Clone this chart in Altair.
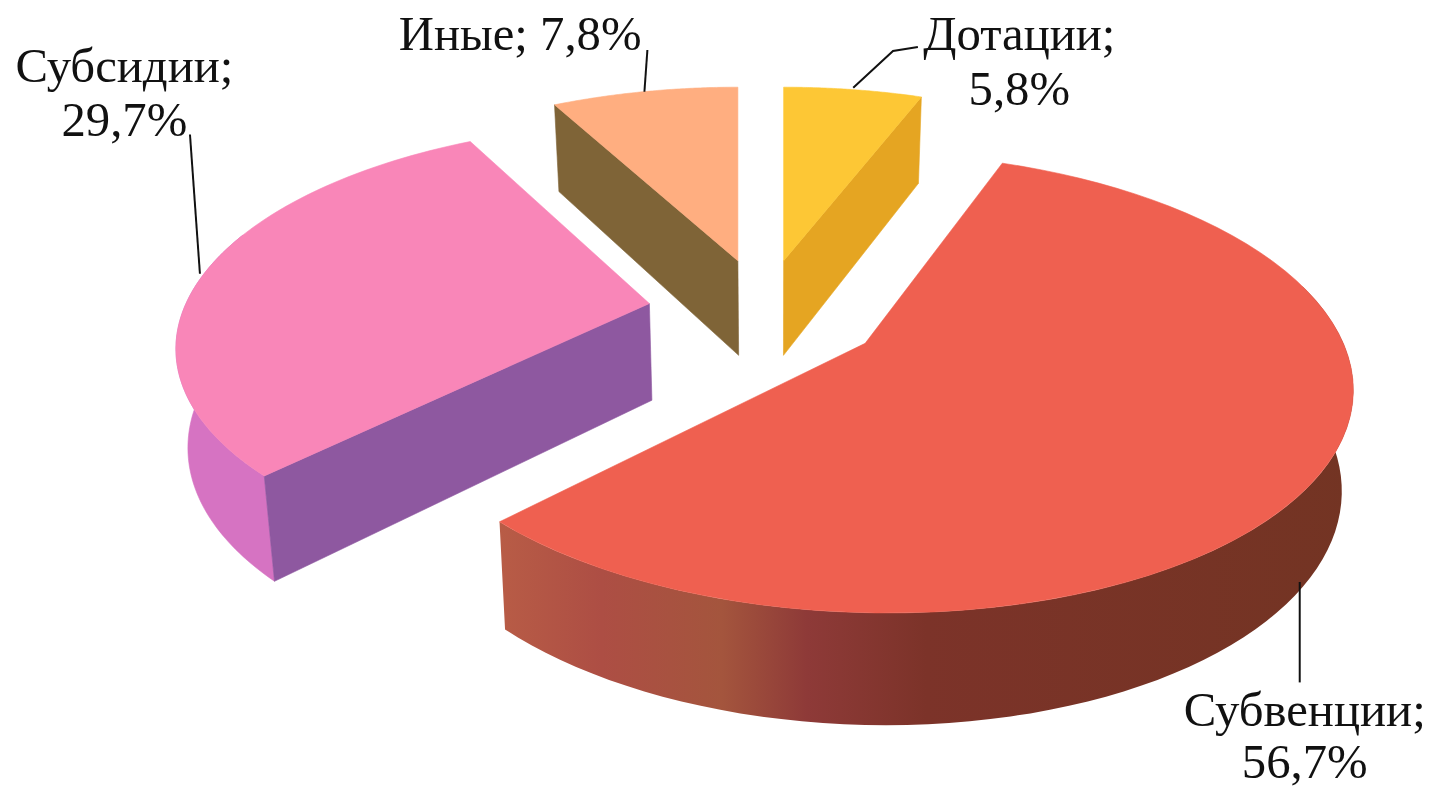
import math
import altair as alt
import pandas as pd

categories = ["Дотации", "Субвенции", "Субсидии", "Иные"]
shares = [5.8, 56.7, 29.7, 7.8]
share_labels = ["5,8%", "56,7%", "29,7%", "7,8%"]
top_colors = ["#FDC735", "#EF6050", "#F986B8", "#FFAE80"]

# projection of each exploded slice: apex, radii, shear, rim offset
layout = {
    "Дотации": (783, 262, 454, 206, 0, 0, 0),
    "Субвенции": (865, 345, 475, 224, 15, 5, -2),
    "Субсидии": (648, 305, 466, 214, -12, 0, 0),
    "Иные": (737, 262, 454, 206, 0, 0, 0),
}
PERSP = 0.18
XD = alt.Scale(domain=[3, 1431])
YD = alt.Scale(domain=[794, 10])


def rim(name, deg):
    ax, ay, a, b, s, ox, oy = layout[name]
    t = math.radians(deg)
    d = 1 - PERSP * math.sin(t)
    return (ax + ox + (a * math.cos(t) + s * math.sin(t)) / d, ay + oy + b * math.sin(t) / d)


def drop(p):
    return (p[0] + (775 - p[0]) * 0.02, p[1] + 82 + 0.05 * p[1])


def poly(points, fill):
    df = pd.DataFrame({"x": [p[0] for p in points], "y": [p[1] for p in points], "i": range(len(points))})
    st = fill if isinstance(fill, str) else "transparent"
    return alt.Chart(df).mark_line(fill=fill, stroke=st, strokeWidth=0.6, interpolate="linear-closed").encode(
        x=alt.X("x:Q", scale=XD, axis=None),
        y=alt.Y("y:Q", scale=YD, axis=None),
        order="i:Q",
    )


bounds = {}
acc = -90.0
for c, v in zip(categories, shares):
    bounds[c] = (acc, acc + v * 3.6)
    acc += v * 3.6


def arc(name, d0, d1, n=70):
    return [rim(name, d0 + (d1 - d0) * k / n) for k in range(n + 1)]


def wall(points):
    return points + [drop(p) for p in reversed(points)]


red_grad = alt.LinearGradient(
    gradient="linear", x1=0, x2=1, y1=0, y2=0,
    stops=[
        alt.GradientStop(offset=0, color="#B85C46"),
        alt.GradientStop(offset=0.12, color="#AD4E44"),
        alt.GradientStop(offset=0.26, color="#A4553D"),
        alt.GradientStop(offset=0.36, color="#8E3A38"),
        alt.GradientStop(offset=0.5, color="#7C3329"),
        alt.GradientStop(offset=1, color="#733423"),
    ],
)

layers = []
# walls
apex = lambda n: (layout[n][0], layout[n][1])
n = "Дотации"
layers.append(poly(wall([apex(n), rim(n, bounds[n][1])]), "#E5A522"))
n = "Иные"
layers.append(poly(wall([apex(n), rim(n, bounds[n][0])]), "#7F6437"))
n = "Субсидии"
layers.append(poly(wall(arc(n, bounds[n][0], 200)), "#D673C2"))
layers.append(poly(wall([apex(n), rim(n, bounds[n][0])]), "#8E58A0"))
n = "Субвенции"
layers.append(poly(wall(arc(n, -15, bounds[n][1])), red_grad))
# top faces
for c, col in zip(categories, top_colors):
    layers.append(poly([apex(c)] + arc(c, *bounds[c]), col))

# leader lines
leaders = [
    [(186, 135), (196, 275)],
    [(646, 50), (643, 92)],
    [(918, 47), (893, 51), (853, 88)],
    [(1302, 585), (1302, 686)],
]
for seg in leaders:
    df = pd.DataFrame({"x": [p[0] for p in seg], "y": [p[1] for p in seg], "i": range(len(seg))})
    layers.append(alt.Chart(df).mark_line(color="#111111", strokeWidth=2).encode(
        x=alt.X("x:Q", scale=XD, axis=None), y=alt.Y("y:Q", scale=YD, axis=None), order="i:Q"))

# labels
lab = pd.DataFrame({
    "x": [1020, 1020, 1307, 1307, 120, 120, 518],
    "y": [35, 90, 715, 767, 67, 122, 35],
    "t": [categories[0] + ";", share_labels[0], categories[1] + ";", share_labels[1],
          categories[2] + ";", share_labels[2], categories[3] + "; " + share_labels[3]],
})
layers.append(alt.Chart(lab).mark_text(font="Liberation Serif", fontSize=49, color="#111111", baseline="middle", align="center").encode(
    x=alt.X("x:Q", scale=XD, axis=None), y=alt.Y("y:Q", scale=YD, axis=None), text="t:N"))

chart = alt.layer(*layers).properties(
    width=1428, height=784, padding=0, background="white",
    autosize=alt.AutoSizeParams(type="none"),
).configure_view(stroke=None)
chart.save("out.html", embed_options={"renderer": "svg", "actions": False})
